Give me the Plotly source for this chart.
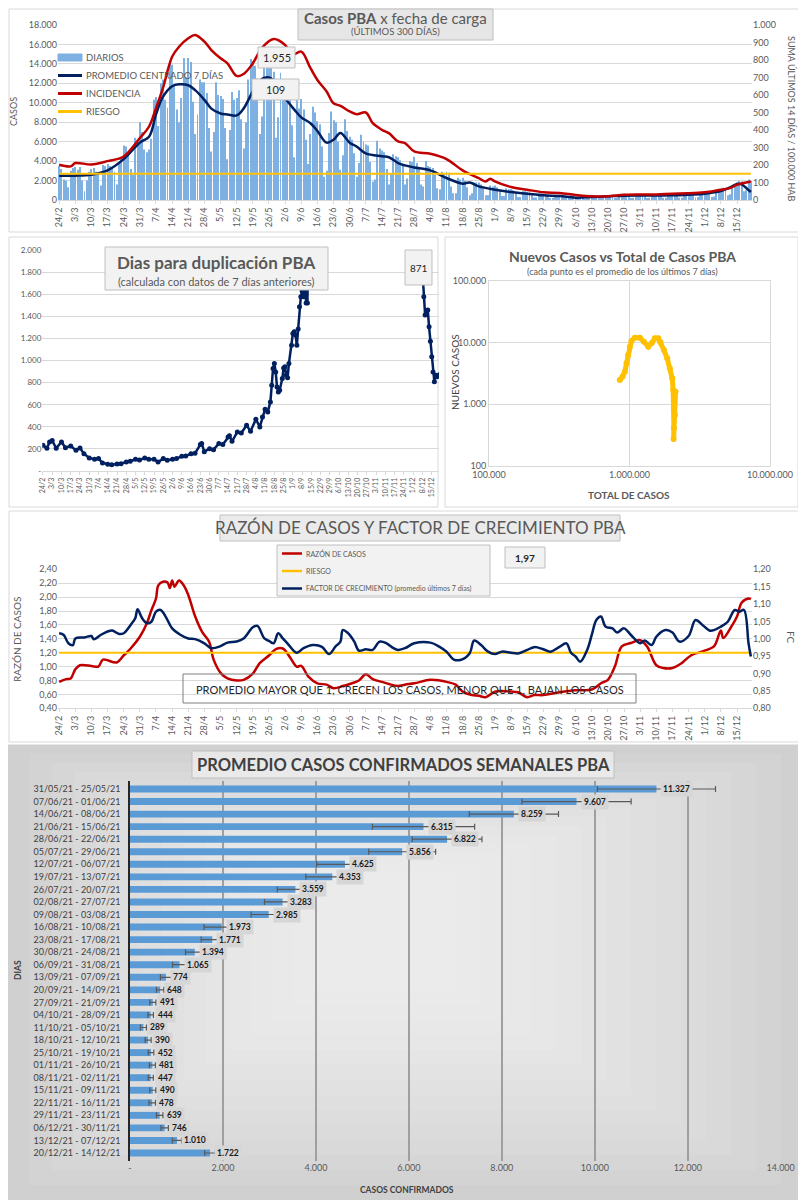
import pandas as pd
import plotly.graph_objects as go

# ---------------- datos ----------------
INICIO = "2021-02-24"
RIESGO_INC = 150      # incidencia 14 dias / 100.000 hab
RIESGO_RAZON = 1.2

# casos diarios (una fila por semana, mie -> mar)
diarios = [
    3500, 3200, 2100, 2000, 1300, 3000, 3300,
    3400, 3100, 3400, 2000, 900, 2000, 2900,
    3200, 3300, 2900, 2700, 1500, 3600, 3500,
    3700, 3500, 3400, 2900, 1600, 3900, 4300,
    5600, 5500, 4700, 3200, 2600, 6400, 6000,
    8000, 7000, 5200, 4900, 5200, 6300, 10300,
    10600, 7600, 12000, 12400, 10300, 9500, 14000,
    13900, 11800, 9300, 8000, 10500, 14600, 12600,
    14600, 14200, 10100, 6800, 8800, 12400, 12100,
    12100, 11000, 7400, 5000, 7000, 12100, 10800,
    10700, 10400, 7400, 4200, 7200, 11100, 10300,
    10500, 11300, 8300, 5300, 8000, 12400, 14500,
    14300, 13800, 12500, 6800, 8600, 14600, 13700,
    13600, 14400, 13200, 6400, 8500, 13100, 10800,
    11200, 10900, 10300, 7700, 4400, 10300, 9400,
    10400, 9300, 6200, 3700, 6800, 9600, 9000,
    8100, 7800, 5500, 2400, 3000, 6900, 9100,
    8200, 8000, 6000, 3100, 4600, 8300, 7100,
    6500, 6200, 4800, 2400, 3800, 6700, 6000,
    5700, 5600, 3900, 1900, 2100, 6100, 5300,
    5100, 4900, 3200, 1600, 2700, 4700, 4500,
    4400, 4100, 3700, 1600, 2200, 4000, 3900,
    4460, 3800, 3400, 1600, 1400, 4000, 3500,
    3400, 3300, 2600, 1200, 1100, 2900, 2700,
    2900, 2800, 1400, 700, 700, 2300, 2100,
    2300, 2000, 1300, 500, 700, 1800, 1800,
    1800, 1600, 1200, 500, 500, 1500, 1400,
    1500, 1300, 900, 400, 400, 1200, 1100,
    1100, 1000, 700, 300, 300, 900, 900,
    850, 800, 600, 250, 250, 750, 700,
    650, 600, 450, 200, 200, 550, 550,
    550, 500, 400, 150, 180, 480, 450,
    330, 300, 280, 120, 100, 350, 350,
    420, 400, 330, 150, 150, 420, 400,
    520, 480, 400, 180, 200, 490, 470,
    560, 540, 450, 200, 230, 520, 510,
    560, 520, 430, 200, 220, 500, 500,
    590, 560, 460, 220, 240, 530, 520,
    600, 560, 470, 220, 230, 560, 560,
    700, 680, 540, 260, 300, 660, 650,
    850, 820, 700, 320, 350, 900, 950,
    1100, 1250, 1000, 500, 600, 1500, 1600,
    1800, 1950, 1900, 900, 1000, 2100, 1955,
]

prom_fechas = ["24/2", "3/3", "10/3", "17/3", "24/3", "31/3", "4/4", "7/4", "10/4", "14/4",
               "17/4", "21/4", "24/4", "28/4", "1/5", "5/5", "8/5", "12/5", "15/5", "19/5",
               "22/5", "26/5", "29/5", "2/6", "6/6", "9/6", "13/6", "16/6", "20/6", "23/6",
               "26/6", "30/6", "3/7", "7/7", "14/7", "17/7", "21/7", "24/7", "28/7", "4/8",
               "11/8", "18/8", "21/8", "25/8", "1/9", "8/9", "15/9", "22/9", "29/9", "6/10",
               "13/10", "20/10", "27/10", "3/11", "10/11", "17/11", "24/11", "1/12", "8/12", "12/12",
               "15/12", "17/12", "19/12", "21/12"]
prom_vals = [2500, 2500, 2600, 3050, 4200, 5900, 6500, 8800, 10600, 11700,
             11900, 11800, 11300, 10300, 9400, 8900, 8800, 8700, 9400, 11200,
             12300, 12600, 12000, 10500, 9300, 8500, 7900, 7100, 5900, 6200,
             6900, 5900, 5500, 4800, 4500, 4400, 3800, 3560, 3350, 3050,
             2260, 1680, 1800, 1400, 1060, 820, 650, 480, 410, 240,
             300, 380, 450, 460, 460, 480, 550, 650, 920, 1300,
             1650, 1600, 1240, 820]

inc_fechas = ["24/2", "1/3", "3/3", "10/3", "17/3", "24/3", "31/3", "4/4", "7/4", "10/4",
              "14/4", "17/4", "21/4", "24/4", "28/4", "1/5", "5/5", "8/5", "12/5", "15/5",
              "19/5", "23/5", "28/5", "2/6", "5/6", "9/6", "13/6", "16/6", "20/6", "23/6",
              "26/6", "30/6", "3/7", "7/7", "10/7", "14/7", "17/7", "21/7", "24/7", "28/7",
              "4/8", "11/8", "18/8", "25/8", "28/8", "30/8", "1/9", "8/9", "15/9", "22/9",
              "29/9", "6/10", "13/10", "20/10", "27/10", "3/11", "10/11", "17/11", "24/11", "1/12",
              "8/12", "12/12", "15/12", "21/12"]
inc_vals = [201, 192, 211, 203, 222, 249, 354, 420, 525, 639,
            819, 876, 924, 943, 905, 857, 810, 781, 709, 720,
            781, 870, 920, 886, 829, 848, 753, 686, 620, 553,
            538, 506, 490, 500, 439, 401, 382, 335, 325, 278,
            264, 234, 169, 125, 106, 122, 106, 74, 59, 44,
            40, 29, 21, 21, 30, 32, 32, 36, 38, 44,
            59, 68, 87, 106]

# dias para duplicacion
dup_fechas = ["24/2", "27/2", "1/3", "3/3", "6/3", "10/3", "13/3", "17/3", "21/3", "24/3",
              "27/3", "31/3", "4/4", "7/4", "10/4", "14/4", "17/4", "21/4", "24/4", "28/4",
              "1/5", "5/5", "8/5", "12/5", "15/5", "19/5", "22/5", "26/5", "29/5", "2/6",
              "5/6", "9/6", "12/6", "16/6", "19/6", "23/6", "24/6", "26/6", "30/6", "3/7",
              "7/7", "10/7", "14/7", "15/7", "17/7", "21/7", "24/7", "28/7", "31/7", "4/8",
              "7/8", "9/8", "11/8", "13/8", "15/8", "16/8", "17/8", "18/8", "19/8", "20/8",
              "21/8", "22/8", "24/8", "25/8", "26/8", "27/8", "28/8", "29/8", "31/8", "1/9",
              "2/9", "3/9", "4/9", "5/9", "6/9", "7/9", "8/9", "9/9", "10/9", "11/9",
              "12/9", "13/9", "20/9", "1/10", "15/10", "1/11", "15/11", "1/12", "7/12", "8/12",
              "9/12", "10/12", "11/12", "12/12", "13/12", "14/12", "15/12", "16/12", "17/12", "18/12",
              "19/12", "20/12", "21/12"]
dup_vals = [233, 205, 262, 275, 205, 263, 210, 227, 187, 208,
            157, 118, 106, 112, 73, 60, 57, 63, 66, 82,
            88, 106, 100, 118, 106, 106, 82, 112, 97, 106,
            112, 133, 136, 157, 160, 239, 250, 175, 202, 193,
            248, 239, 308, 320, 269, 353, 344, 414, 359, 468,
            399, 489, 559, 535, 625, 776, 927, 973, 897, 761,
            716, 731, 837, 933, 943, 867, 843, 973, 1139, 1245,
            1260, 1230, 1139, 1284, 1486, 1577, 1628, 1577, 1773, 1520,
            1520, 2600, 3200, 4200, 4800, 4500, 4000, 3000, 2300, 1803,
            1577, 1411, 1447, 1456, 1305, 1175, 1033, 897, 807, 867,
            852, 867, 871]
dup_ticks = [0, 200, 400, 600, 800, 1000, 1200, 1400, 1600, 1800, 2000]
dup_ticktext = ["-", "200", "400", "600", "800", "1.000", "1.200", "1.400", "1.600", "1.800", "2.000"]

# nuevos casos vs total
sc_total = [853000, 891000, 926000, 952000, 978000, 1005000, 1032000, 1091000, 1185000, 1266000,
            1359000, 1435000, 1516000, 1601000, 1663000, 1757000, 1855000, 1938000, 2013000, 2046000,
            2070000, 2070000, 2060000, 2103000, 2127000]
sc_nuevos = [2480, 2810, 3390, 4620, 6310, 8610, 10640, 12050, 12050, 10370,
             8610, 9750, 11750, 11750, 10110, 7600, 5570, 3840, 2640, 1710,
             862, 408, 274, 671, 1600]
sc_xticks = [1e5, 1e6, 1e7]
sc_xtext = ["100.000", "1.000.000", "10.000.000"]
sc_yticks = [100, 1000, 10000, 100000]
sc_ytext = ["100", "1.000", "10.000", "100.000"]

# razon de casos y factor de crecimiento
raz_fechas = ["24/2", "27/2", "1/3", "3/3", "5/3", "10/3", "13/3", "15/3", "21/3", "24/3",
              "27/3", "31/3", "3/4", "5/4", "7/4", "8/4", "10/4", "12/4", "13/4", "14/4",
              "15/4", "17/4", "19/4", "21/4", "24/4", "27/4", "30/4", "2/5", "5/5", "8/5",
              "12/5", "15/5", "19/5", "22/5", "26/5", "29/5", "1/6", "4/6", "7/6", "9/6",
              "12/6", "16/6", "20/6", "23/6", "27/6", "30/6", "4/7", "7/7", "10/7", "14/7",
              "17/7", "21/7", "24/7", "28/7", "4/8", "8/8", "11/8", "15/8", "18/8", "22/8",
              "25/8", "28/8", "1/9", "4/9", "8/9", "11/9", "15/9", "18/9", "22/9", "29/9",
              "6/10", "13/10", "17/10", "20/10", "23/10", "26/10", "30/10", "3/11", "6/11", "10/11",
              "13/11", "17/11", "21/11", "25/11", "1/12", "5/12", "8/12", "9/12", "13/12", "15/12",
              "17/12", "20/12", "21/12"]
raz_vals = [0.78, 0.82, 0.83, 0.96, 1.02, 1.01, 1.00, 1.10, 1.06, 1.16,
            1.26, 1.43, 1.62, 1.81, 1.98, 2.17, 2.22, 2.21, 2.13, 2.24,
            2.15, 2.24, 2.17, 2.03, 1.72, 1.50, 1.36, 1.10, 0.91, 0.83,
            0.80, 0.81, 0.90, 1.05, 1.16, 1.25, 1.26, 1.14, 1.00, 1.01,
            0.86, 0.76, 0.74, 0.69, 0.72, 0.75, 0.80, 0.89, 0.82, 0.78,
            0.75, 0.72, 0.74, 0.76, 0.81, 0.80, 0.78, 0.74, 0.64, 0.59,
            0.58, 0.56, 0.64, 0.65, 0.64, 0.63, 0.56, 0.59, 0.59, 0.63,
            0.66, 0.67, 0.76, 0.81, 1.00, 1.29, 1.34, 1.38, 1.29, 1.02,
            0.98, 0.98, 1.05, 1.16, 1.23, 1.29, 1.52, 1.41, 1.60, 1.72,
            1.92, 1.98, 1.97]

fc_fechas = ["24/2", "26/2", "28/2", "2/3", "3/3", "7/3", "10/3", "11/3", "14/3", "17/3",
             "19/3", "22/3", "24/3", "27/3", "29/3", "30/3", "1/4", "3/4", "5/4", "7/4",
             "9/4", "11/4", "14/4", "17/4", "21/4", "24/4", "28/4", "1/5", "5/5", "8/5",
             "12/5", "15/5", "19/5", "21/5", "24/5", "26/5", "28/5", "30/5", "1/6", "3/6",
             "7/6", "10/6", "14/6", "18/6", "21/6", "24/6", "26/6", "27/6", "29/6", "2/7",
             "4/7", "7/7", "10/7", "13/7", "16/7", "19/7", "21/7", "24/7", "28/7", "4/8",
             "8/8", "11/8", "14/8", "17/8", "21/8", "23/8", "26/8", "29/8", "1/9", "4/9",
             "8/9", "11/9", "15/9", "18/9", "22/9", "25/9", "29/9", "2/10", "4/10", "6/10",
             "8/10", "11/10", "13/10", "15/10", "17/10", "19/10", "22/10", "24/10", "27/10", "30/10",
             "3/11", "5/11", "8/11", "10/11", "14/11", "17/11", "20/11", "24/11", "27/11", "30/11",
             "3/12", "5/12", "8/12", "11/12", "14/12", "16/12", "18/12", "20/12", "21/12"]
fc_vals = [1.016, 1.011, 0.987, 0.982, 1.001, 1.004, 1.008, 0.999, 1.011, 1.021,
           1.024, 1.014, 1.016, 1.040, 1.059, 1.085, 1.059, 1.045, 1.049, 1.078,
           1.083, 1.066, 1.030, 1.014, 1.001, 0.999, 0.987, 0.973, 0.979, 0.989,
           0.992, 1.001, 1.033, 1.037, 1.001, 0.994, 0.987, 1.016, 1.001, 0.987,
           0.960, 0.973, 0.982, 0.977, 0.956, 0.979, 0.992, 1.025, 1.018, 0.992,
           0.966, 0.970, 0.968, 0.992, 0.987, 0.973, 0.968, 0.973, 0.987, 0.989,
           0.977, 0.963, 0.941, 0.939, 0.958, 0.995, 0.982, 0.963, 0.956, 0.963,
           0.960, 0.958, 0.968, 0.976, 0.970, 0.963, 0.977, 0.987, 0.960, 0.949,
           0.934, 0.968, 1.011, 1.054, 1.064, 1.035, 1.030, 1.018, 1.030, 1.011,
           0.987, 0.995, 0.982, 1.006, 1.025, 1.018, 0.992, 1.008, 1.054, 1.040,
           1.024, 1.025, 1.035, 1.049, 1.083, 1.078, 1.083, 0.987, 0.949]

# promedio semanal
semanas = ["31/05/21 - 25/05/21", "07/06/21 - 01/06/21", "14/06/21 - 08/06/21", "21/06/21 - 15/06/21",
           "28/06/21 - 22/06/21", "05/07/21 - 29/06/21", "12/07/21 - 06/07/21", "19/07/21 - 13/07/21",
           "26/07/21 - 20/07/21", "02/08/21 - 27/07/21", "09/08/21 - 03/08/21", "16/08/21 - 10/08/21",
           "23/08/21 - 17/08/21", "30/08/21 - 24/08/21", "06/09/21 - 31/08/21", "13/09/21 - 07/09/21",
           "20/09/21 - 14/09/21", "27/09/21 - 21/09/21", "04/10/21 - 28/09/21", "11/10/21 - 05/10/21",
           "18/10/21 - 12/10/21", "25/10/21 - 19/10/21", "01/11/21 - 26/10/21", "08/11/21 - 02/11/21",
           "15/11/21 - 09/11/21", "22/11/21 - 16/11/21", "29/11/21 - 23/11/21", "06/12/21 - 30/11/21",
           "13/12/21 - 07/12/21", "20/12/21 - 14/12/21"]
promedios = [11327, 9607, 8259, 6315, 6822, 5856, 4625, 4353, 3559, 3283,
             2985, 1973, 1771, 1394, 1065, 774, 648, 491, 444, 289,
             390, 452, 481, 447, 490, 478, 639, 746, 1010, 1722]
errores = [1270, 1175, 960, 1100, 750, 720, 610, 570, 390, 390,
           380, 380, 240, 200, 150, 120, 80, 65, 60, 65,
           65, 60, 65, 55, 65, 70, 70, 80, 100, 115]
sem_ticks = [0, 2000, 4000, 6000, 8000, 10000, 12000, 14000]
sem_ticktext = ["-", "2.000", "4.000", "6.000", "8.000", "10.000", "12.000", "14.000"]

assert len(prom_fechas) == len(prom_vals)
assert len(inc_fechas) == len(inc_vals)
assert len(dup_fechas) == len(dup_vals)
assert len(raz_fechas) == len(raz_vals)
assert len(fc_fechas) == len(fc_vals)
assert len(sc_total) == len(sc_nuevos)
assert len(semanas) == len(promedios) == len(errores)

# ---------------- estilo ----------------
# la pagina deja un margen de 8 px, la figura se corre para que todo caiga en su lugar
OFF = 8
W, H = 806 - OFF, 1200 - OFF
FONT = "Lato"
GRIS = "#595959"
GRILLA = "#d9d9d9"
AZUL = "#002060"
ROJO = "#c00000"
NARANJA = "#ffc000"
CELESTE = "#5b9bd5"
BARRA_DIA = "#7eb0e2"
DIA_MS = 86400000


def px(x):
    return (x - OFF) / W


def py(y):
    return 1 - (y - OFF) / H


def fechas(lista):
    return pd.to_datetime([f"{d}/2021" for d in lista], format="%d/%m/%Y")


dias = pd.date_range(INICIO, periods=len(diarios))

fig = go.Figure()

# panel 1: casos por fecha de carga
fig.add_trace(go.Bar(x=dias, y=diarios, name="DIARIOS", marker=dict(color=BARRA_DIA, line_width=0),
                     width=0.42 * DIA_MS, xaxis="x", yaxis="y"))
fig.add_trace(go.Scatter(x=fechas(prom_fechas), y=prom_vals, name="PROMEDIO CENTRADO 7 DÍAS", mode="lines",
                         line=dict(color=AZUL, width=2.5, shape="spline"), xaxis="x", yaxis="y"))
fig.add_trace(go.Scatter(x=fechas(inc_fechas), y=inc_vals, name="INCIDENCIA", mode="lines",
                         line=dict(color=ROJO, width=2.5, shape="spline"), xaxis="x", yaxis="y2"))
fig.add_trace(go.Scatter(x=[dias[0], dias[-1]], y=[RIESGO_INC, RIESGO_INC], name="RIESGO", mode="lines",
                         line=dict(color=NARANJA, width=2), xaxis="x", yaxis="y2"))

# panel 2: dias para duplicacion
fig.add_trace(go.Scatter(x=fechas(dup_fechas), y=dup_vals, mode="lines+markers",
                         line=dict(color=AZUL, width=2.5), marker=dict(size=5, color=AZUL),
                         xaxis="x2", yaxis="y3"))

# panel 3: nuevos vs total
fig.add_trace(go.Scatter(x=sc_total, y=sc_nuevos, mode="lines+markers",
                         line=dict(color=NARANJA, width=5), marker=dict(size=6, color=NARANJA),
                         xaxis="x3", yaxis="y4"))

# panel 4: razon y factor de crecimiento
fig.add_trace(go.Scatter(x=fechas(raz_fechas), y=raz_vals, name="RAZÓN DE CASOS", mode="lines",
                         line=dict(color=ROJO, width=2.5, shape="spline"), xaxis="x4", yaxis="y5"))
fig.add_trace(go.Scatter(x=[dias[0], dias[-1]], y=[RIESGO_RAZON, RIESGO_RAZON], name="RIESGO", mode="lines",
                         line=dict(color=NARANJA, width=2), xaxis="x4", yaxis="y5"))
fig.add_trace(go.Scatter(x=fechas(fc_fechas), y=fc_vals, name="FACTOR DE CRECIMIENTO (promedio últimos 7 días)",
                         mode="lines", line=dict(color=AZUL, width=2.5, shape="spline"),
                         xaxis="x4", yaxis="y6"))

# panel 5: promedio semanal
fig.add_trace(go.Bar(y=semanas, x=promedios, orientation="h", marker=dict(color=CELESTE, line_width=0), width=0.55,
                     error_x=dict(type="data", array=errores, color=GRIS, thickness=1.2, width=3),
                     xaxis="x5", yaxis="y7"))


def eje_fecha(x0, x1, fin, tam, anchor):
    return dict(type="date", domain=[px(x0), px(x1)], range=["2021-02-23 12:00", fin], tick0=INICIO,
                dtick=7 * DIA_MS, tickformat="%-d/%-m", tickangle=-90, automargin=False,
                tickfont=dict(size=tam, color=GRIS), showgrid=False, showline=True, linecolor=GRILLA,
                ticks="outside", ticklen=3, tickcolor=GRILLA, anchor=anchor, zeroline=False)


tick9 = dict(size=9, color=GRIS)
fig.update_layout(
    xaxis=eje_fecha(58, 752, "2021-12-21 12:00", 9, "y"),
    yaxis=dict(domain=[py(200), py(25)], range=[0, 18000], dtick=2000, tickformat=",d", gridcolor=GRILLA,
               tickfont=tick9, zeroline=False, anchor="x", automargin=False),
    yaxis2=dict(overlaying="y", side="right", range=[0, 1000], dtick=100, tickformat=",d", showgrid=False,
                tickfont=tick9, zeroline=False, anchor="x", automargin=False),
    xaxis2=eje_fecha(42.3, 439, "2021-12-20 12:00", 7, "y3"),
    yaxis3=dict(domain=[py(471), py(250)], range=[0, 2000], tickvals=dup_ticks, ticktext=dup_ticktext,
                gridcolor=GRILLA, tickfont=dict(size=8, color=GRIS), zeroline=False, anchor="x2",
                automargin=False),
    xaxis3=dict(type="log", domain=[px(489), px(770)], range=[5, 7], tickvals=sc_xticks, ticktext=sc_xtext,
                gridcolor=GRILLA, showline=True, mirror=True, linecolor=GRILLA, tickfont=tick9,
                zeroline=False, anchor="y4", automargin=False),
    yaxis4=dict(type="log", domain=[py(466), py(281)], range=[2, 5], tickvals=sc_yticks, ticktext=sc_ytext,
                gridcolor=GRILLA, showline=True, mirror=True, linecolor=GRILLA, tickfont=tick9,
                zeroline=False, anchor="x3", automargin=False),
    xaxis4=eje_fecha(58, 752, "2021-12-21 12:00", 9, "y5"),
    yaxis5=dict(domain=[py(708.3), py(569.3)], range=[0.4, 2.4], tick0=0.4, dtick=0.2, tickformat=".2f",
                gridcolor=GRILLA, tickfont=tick9, zeroline=False, anchor="x4", automargin=False),
    yaxis6=dict(overlaying="y5", side="right", range=[0.8, 1.2], tick0=0.8, dtick=0.05, tickformat=".2f",
                showgrid=False, tickfont=tick9, zeroline=False, anchor="x4", automargin=False),
    xaxis5=dict(domain=[px(130), px(780.7)], range=[0, 14000], tickvals=sem_ticks, ticktext=sem_ticktext,
                gridcolor="#9f9f9f", gridwidth=1.5, tickfont=tick9, zeroline=False, anchor="y7",
                automargin=False),
    yaxis7=dict(domain=[py(1161), py(781)], type="category", autorange="reversed",
                tickfont=dict(size=9, color="#404040"), showline=True, linecolor="#262626", linewidth=1.5,
                ticklabelstandoff=6, anchor="x5", automargin=False),
    showlegend=False,
    width=W, height=H, margin=dict(l=0, r=0, t=0, b=0, autoexpand=False), separators=",.",
    paper_bgcolor="white", plot_bgcolor="rgba(0,0,0,0)", font=dict(family=FONT, color=GRIS),
)

shapes = []


def caja(x0, y0, x1, y1, fill="rgba(0,0,0,0)", line=GRILLA, layer="above", width=1):
    shapes.append(dict(type="rect", xref="paper", yref="paper", x0=px(x0), x1=px(x1), y0=py(y1), y1=py(y0),
                       fillcolor=fill, line=dict(color=line, width=width), layer=layer))


def trazo(x0, x1, y, color, width):
    shapes.append(dict(type="line", xref="paper", yref="paper", x0=px(x0), x1=px(x1), y0=py(y), y1=py(y),
                       line=dict(color=color, width=width), layer="above"))


# marcos de los paneles
caja(9, 9, 800, 232, layer="below")
caja(9, 237, 438, 507, layer="below")
caja(445, 237, 798, 507, layer="below")
caja(9, 511, 803, 742, layer="below")
# fondo degradado del ultimo panel
caja(8, 745, 806, 1200, fill="#d0d0d0", line="#d0d0d0", layer="below")
for k in range(1, 15):
    caja(8 + k * 22, 745 + k * 9, 806 - k * 25, 1200 - k * 15, fill="rgba(255,255,255,0.075)",
         line="rgba(0,0,0,0)", layer="below", width=0)

# cajas de titulos y etiquetas
caja(298, 9, 493, 40, fill="#e7e6e6", line="#bfbfbf")
caja(258, 47, 295, 68, fill="#f2f2f2", line="#bfbfbf")
caja(252, 79, 299, 100, fill="#f2f2f2", line="#bfbfbf")
caja(105, 247, 328, 290, fill="#f2f2f2", line="#bfbfbf")
caja(405, 250, 432, 285, fill="#f2f2f2", line="#bfbfbf")
caja(220, 515, 620, 541, fill="#ebebeb", line="#bfbfbf")
caja(505, 547, 545, 568, fill="#f2f2f2", line="#bfbfbf")
caja(183, 674, 636, 703, line="#7f7f7f")
caja(192, 751, 614, 778, fill="rgba(245,245,245,0.6)", line="#bfbfbf")
# caja de la leyenda de razon
caja(277, 545, 490, 596, fill="#f2f2f2", line="#bfbfbf")

annotations = []


def texto(x, y, t, size, color=GRIS, angle=0, xanchor="center"):
    annotations.append(dict(x=px(x), y=py(y), xref="paper", yref="paper", text=t, showarrow=False,
                            font=dict(size=size, color=color, family=FONT), textangle=angle,
                            xanchor=xanchor, yanchor="middle"))


# leyendas
caja(58, 54, 82, 61, fill=BARRA_DIA, line=BARRA_DIA)
texto(84, 57.5, "DIARIOS", 9.5, xanchor="left")
trazo(58, 82, 75.5, AZUL, 3)
texto(84, 75.5, "PROMEDIO CENTRADO 7 DÍAS", 9.5, xanchor="left")
trazo(58, 82, 93.5, ROJO, 3)
texto(84, 93.5, "INCIDENCIA", 9.5, xanchor="left")
trazo(58, 82, 111.5, NARANJA, 3)
texto(84, 111.5, "RIESGO", 9.5, xanchor="left")

trazo(282, 302, 553.5, ROJO, 2.5)
texto(304, 553.5, "RAZÓN DE CASOS", 7, xanchor="left")
trazo(282, 302, 571, NARANJA, 2.5)
texto(304, 571, "RIESGO", 7, xanchor="left")
trazo(282, 302, 588.5, AZUL, 2.5)
texto(304, 588.5, "FACTOR DE CRECIMIENTO (promedio últimos 7 días)", 7, xanchor="left")

texto(395, 18, "<b>Casos PBA</b> x fecha de carga", 15)
texto(395, 32, "(ÚLTIMOS 300 DÍAS)", 9.5)
texto(276.5, 57.5, "1.955", 11, "#262626")
texto(275.5, 89.5, "109", 11, "#262626")
texto(14, 112, "CASOS", 9, angle=-90)
texto(792, 118, "SUMA ÚLTIMOS 14 DÍAS / 100.000 HAB", 9, angle=90)

texto(216, 262, "<b>Dias para duplicación PBA</b>", 17)
texto(216, 281, "(calculada con datos de 7 días anteriores)", 11)
texto(418.5, 268, "871", 10, "#262626")

texto(622, 257, "<b>Nuevos Casos vs Total de Casos PBA</b>", 14)
texto(622, 271, "(cada punto es el promedio de los últimos 7 días)", 9)
texto(455, 372, "NUEVOS CASOS", 10, "#404040", angle=-90)
texto(629, 495, "<b>TOTAL DE CASOS</b>", 10)

texto(420, 528, "RAZÓN DE CASOS Y FACTOR DE CRECIMIENTO PBA", 17)
texto(525, 557.5, "<b>1,97</b>", 10, "#262626")
texto(410, 689, "PROMEDIO MAYOR QUE 1, CRECEN LOS CASOS, MENOR QUE 1, BAJAN LOS CASOS", 11, "#262626")
texto(17, 640, "RAZÓN DE CASOS", 10, angle=-90)
texto(791, 637, "FC", 10, angle=90)

texto(403, 764.5, "<b>PROMEDIO CASOS CONFIRMADOS SEMANALES PBA</b>", 16.5, "#404040")
texto(407, 1190, "<b>CASOS CONFIRMADOS</b>", 8.5, "#404040")
texto(18, 970, "<b>DIAS</b>", 8.5, "#404040", angle=-90)

# etiquetas de valores de las barras semanales
for sem, val in zip(semanas, promedios):
    annotations.append(dict(x=val, y=sem, xref="x5", yref="y7", text="<b>" + f"{val:,}".replace(",", ".") + "</b>",
                            showarrow=False, xanchor="left", xshift=4, bgcolor="#d6d6d6", borderpad=2,
                            font=dict(size=8.5, color="#1a1a1a", family=FONT)))

fig.update_layout(shapes=shapes, annotations=annotations)
fig.write_html("out.html")
